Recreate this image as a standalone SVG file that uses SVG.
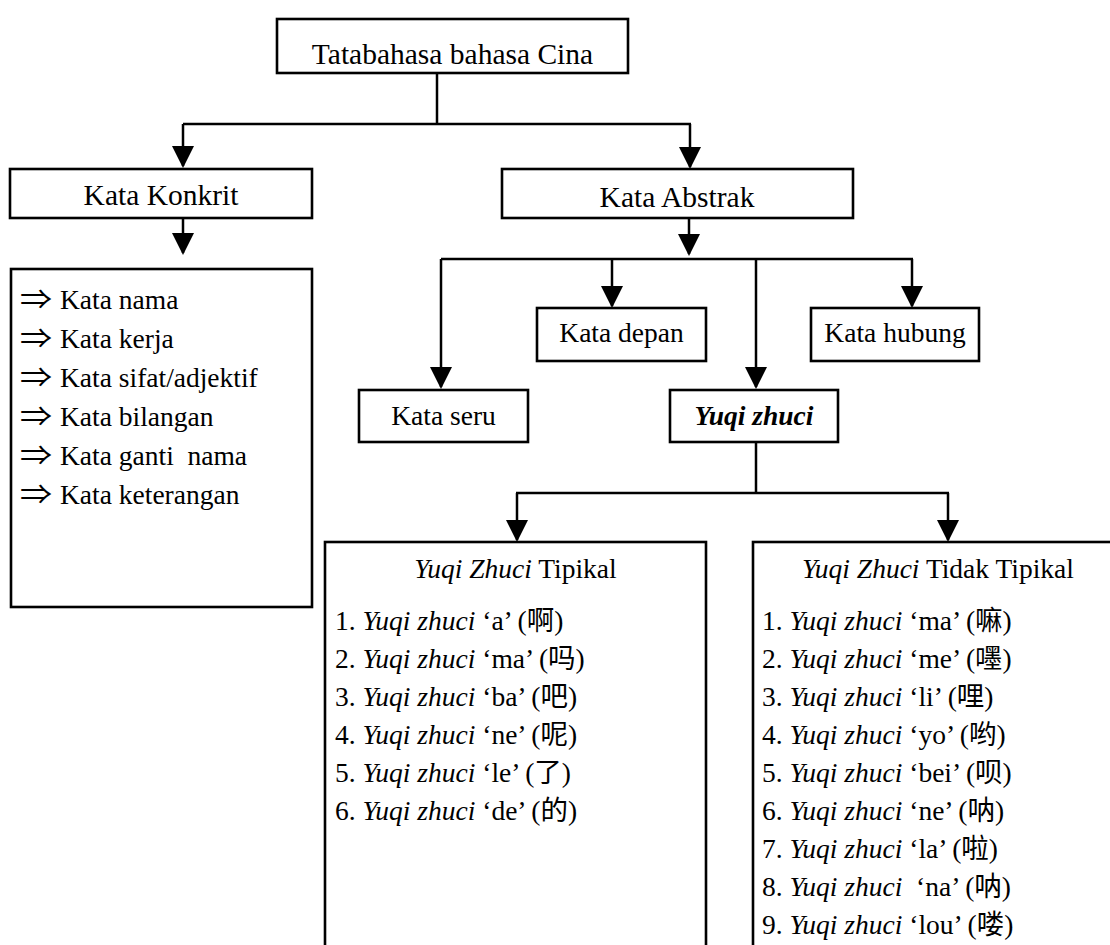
<svg xmlns="http://www.w3.org/2000/svg" width="1110" height="945" viewBox="0 0 1110 945">
<defs>
<style>
.box{fill:#fff;stroke:#000;stroke-width:2.6}
.ln{fill:none;stroke:#000;stroke-width:2.5}
.ar{fill:none;stroke:#000;stroke-width:2.5;marker-end:url(#ah)}
text{font-family:"Liberation Serif","Times New Roman","Noto Sans CJK SC",serif;font-size:27.5px;fill:#000}
.c{text-anchor:middle}
.big{font-size:29.5px}
.i{font-style:italic}
.bi{font-style:italic;font-weight:bold}
.pre{white-space:pre}
</style>
<marker id="ah" markerUnits="userSpaceOnUse" markerWidth="22" markerHeight="22" refX="20" refY="11" orient="auto" viewBox="0 0 22 22">
<path d="M0,0 L22,11 L0,22 Z" fill="#000"/>
</marker>
</defs>
<rect width="1110" height="945" fill="#fff"/>

<g id="connectors">
<path class="ln" d="M437,73 V124"/>
<path class="ln" d="M183,124 H691"/>
<path class="ar" d="M183,124 V166"/>
<path class="ar" d="M690,124 V167"/>
<path class="ar" d="M183,218 V253"/>
<path class="ar" d="M689,218 V254"/>
<path class="ln" d="M441,259 H913"/>
<path class="ar" d="M441,259 V387"/>
<path class="ar" d="M612,259 V306"/>
<path class="ar" d="M756,259 V387"/>
<path class="ar" d="M912,259 V306"/>
<path class="ln" d="M756,442 V493"/>
<path class="ln" d="M516,493 H949"/>
<path class="ar" d="M517,493 V540"/>
<path class="ar" d="M948,493 V540"/>
</g>

<g id="n-root">
<rect class="box" x="277" y="19" width="351" height="54"/>
<text class="c big" x="452.5" y="64">Tatabahasa bahasa Cina</text>
</g>

<g id="n-konkrit">
<rect class="box" x="10" y="169" width="302" height="49"/>
<text class="c big" x="161" y="205">Kata Konkrit</text>
</g>

<g id="n-abstrak">
<rect class="box" x="502" y="169" width="351" height="49"/>
<text class="c big" x="677" y="207">Kata Abstrak</text>
</g>

<g id="n-konkrit-list">
<rect class="box" x="11" y="269" width="301" height="338"/>
<text x="20" y="309" textLength="32" lengthAdjust="spacingAndGlyphs">⇒</text>
<text x="60" y="309">Kata nama</text>
<text x="20" y="348" textLength="32" lengthAdjust="spacingAndGlyphs">⇒</text>
<text x="60" y="348">Kata kerja</text>
<text x="20" y="387" textLength="32" lengthAdjust="spacingAndGlyphs">⇒</text>
<text x="60" y="387">Kata sifat/adjektif</text>
<text x="20" y="426" textLength="32" lengthAdjust="spacingAndGlyphs">⇒</text>
<text x="60" y="426">Kata bilangan</text>
<text x="20" y="465" textLength="32" lengthAdjust="spacingAndGlyphs">⇒</text>
<text class="pre" x="60" y="465">Kata ganti  nama</text>
<text x="20" y="504" textLength="32" lengthAdjust="spacingAndGlyphs">⇒</text>
<text x="60" y="504">Kata keterangan</text>
</g>

<g id="n-depan">
<rect class="box" x="537" y="308" width="169" height="53"/>
<text class="c" x="621.5" y="342">Kata depan</text>
</g>

<g id="n-hubung">
<rect class="box" x="811" y="308" width="168" height="53"/>
<text class="c" x="895" y="342">Kata hubung</text>
</g>

<g id="n-seru">
<rect class="box" x="359" y="390" width="169" height="52"/>
<text class="c" x="443.5" y="425">Kata seru</text>
</g>

<g id="n-yuqi">
<rect class="box" x="670" y="390" width="168" height="52"/>
<text class="c bi" x="754" y="425">Yuqi zhuci</text>
</g>

<g id="n-tipikal">
<rect class="box" x="325" y="542" width="381" height="430"/>
<text class="c" x="515.5" y="578"><tspan class="i">Yuqi Zhuci</tspan> Tipikal</text>
<text x="335" y="630">1. <tspan class="i">Yuqi zhuci</tspan> ‘a’ (啊)</text>
<text x="335" y="668">2. <tspan class="i">Yuqi zhuci</tspan> ‘ma’ (吗)</text>
<text x="335" y="706">3. <tspan class="i">Yuqi zhuci</tspan> ‘ba’ (吧)</text>
<text x="335" y="744">4. <tspan class="i">Yuqi zhuci</tspan> ‘ne’ (呢)</text>
<text x="335" y="782">5. <tspan class="i">Yuqi zhuci</tspan> ‘le’ (了)</text>
<text x="335" y="820">6. <tspan class="i">Yuqi zhuci</tspan> ‘de’ (的)</text>
</g>

<g id="n-tidak-tipikal">
<rect class="box" x="753" y="542" width="380" height="430"/>
<text class="c" x="938" y="578"><tspan class="i">Yuqi Zhuci</tspan> Tidak Tipikal</text>
<text x="762" y="630">1. <tspan class="i">Yuqi zhuci</tspan> ‘ma’ (嘛)</text>
<text x="762" y="668">2. <tspan class="i">Yuqi zhuci</tspan> ‘me’ (嚜)</text>
<text x="762" y="706">3. <tspan class="i">Yuqi zhuci</tspan> ‘li’ (哩)</text>
<text x="762" y="744">4. <tspan class="i">Yuqi zhuci</tspan> ‘yo’ (哟)</text>
<text x="762" y="782">5. <tspan class="i">Yuqi zhuci</tspan> ‘bei’ (呗)</text>
<text x="762" y="820">6. <tspan class="i">Yuqi zhuci</tspan> ‘ne’ (呐)</text>
<text x="762" y="858">7. <tspan class="i">Yuqi zhuci</tspan> ‘la’ (啦)</text>
<text class="pre" x="762" y="896">8. <tspan class="i">Yuqi zhuci</tspan>  ‘na’ (呐)</text>
<text x="762" y="934">9. <tspan class="i">Yuqi zhuci</tspan> ‘lou’ (喽)</text>
</g>
</svg>
